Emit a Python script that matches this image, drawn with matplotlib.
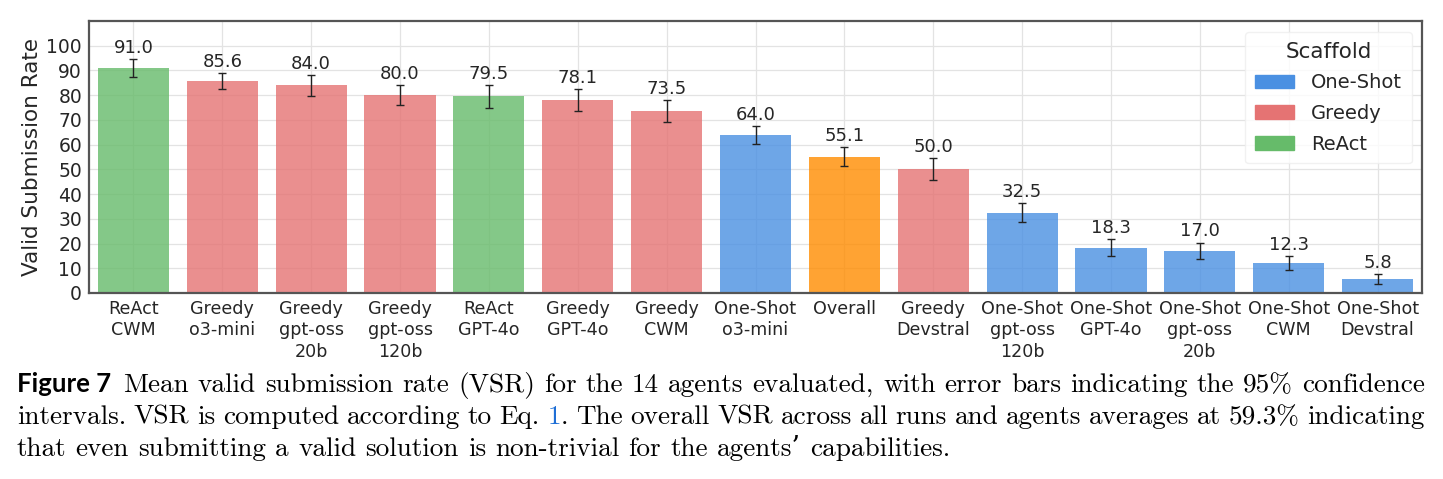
import matplotlib
matplotlib.use("Agg")
import matplotlib.pyplot as plt
from matplotlib.patches import Patch

labels = ["ReAct\nCWM", "Greedy\no3-mini", "Greedy\ngpt-oss\n20b", "Greedy\ngpt-oss\n120b",
          "ReAct\nGPT-4o", "Greedy\nGPT-4o", "Greedy\nCWM", "One-Shot\no3-mini", "Overall",
          "Greedy\nDevstral", "One-Shot\ngpt-oss\n120b", "One-Shot\nGPT-4o", "One-Shot\ngpt-oss\n20b",
          "One-Shot\nCWM", "One-Shot\nDevstral"]
scaffold = ["ReAct", "Greedy", "Greedy", "Greedy", "ReAct", "Greedy", "Greedy", "One-Shot",
            "Overall", "Greedy", "One-Shot", "One-Shot", "One-Shot", "One-Shot", "One-Shot"]
values = [91.0, 85.6, 84.0, 80.0, 79.5, 78.1, 73.5, 64.0, 55.1, 50.0, 32.5, 18.3, 17.0, 12.3, 5.8]
errors = [3.7, 3.2, 4.3, 4.0, 4.5, 4.3, 4.5, 3.6, 3.8, 4.5, 3.8, 3.4, 3.4, 2.8, 2.0]
yticks = list(range(0, 101, 10))

colors = {"One-Shot": "#4a90e2", "Greedy": "#e57373", "ReAct": "#66bb6a", "Overall": "#ff8c00"}
text_c = "#262626"

fig = plt.figure(figsize=(14.43, 4.79), dpi=100)
ax = fig.add_axes([89/1443, 1-293/479, (1422-89)/1443, (293-21)/479])

x = list(range(len(values)))
ax.set_axisbelow(True)
ax.grid(True, color="#e3e3e3", linewidth=0.9)
ax.bar(x, values, width=0.8, color=[colors[s] for s in scaffold], alpha=0.8, zorder=2)
ax.errorbar(x, values, yerr=errors, fmt="none", ecolor="#222222", elinewidth=1.0,
            capsize=3, capthick=1.0, zorder=3)
for xi, v, e in zip(x, values, errors):
    ax.annotate(f"{v:.1f}", (xi, v + e), xytext=(0, 1.5), textcoords="offset points",
                ha="center", va="bottom", fontsize=13, color=text_c)

ax.set_xlim(-0.5, len(values) - 0.5)
ax.set_ylim(0, 110)
ax.set_yticks(yticks)
ax.set_xticks(x)
ax.set_xticklabels(labels, fontsize=12.6, color=text_c, linespacing=1.25)
ax.tick_params(axis="y", labelsize=13.5, colors=text_c, length=0, pad=5)
ax.tick_params(axis="x", length=0, pad=5)
ax.set_ylabel("Valid Submission Rate", fontsize=15.5, color=text_c, labelpad=3)
for s in ax.spines.values():
    s.set_color("#555555")
    s.set_linewidth(1.6)

handles = [Patch(color=colors[k]) for k in ["One-Shot", "Greedy", "ReAct"]]
leg = ax.legend(handles, ["One-Shot", "Greedy", "ReAct"], title="Scaffold", loc="upper right",
                fontsize=14, title_fontsize=15.5, frameon=True, framealpha=0.8,
                edgecolor="#eeeeee", handlelength=2.0, handleheight=0.7, borderpad=0.5,
                labelspacing=0.6, handletextpad=0.9, borderaxespad=0,
                bbox_to_anchor=(1 - 10/1333, 1 - 11/272))
for t in leg.get_texts():
    t.set_color(text_c)
leg.get_title().set_color(text_c)

# caption
fig.canvas.draw()
renderer = fig.canvas.get_renderer()
cap_fs = 19.6
serif = ["cmr10", "DejaVu Serif"]
L, R = 17, 1425


def width_of(s, **kw):
    t = fig.text(0, 0, s, **kw)
    w = t.get_window_extent(renderer).width
    t.remove()
    return w


def place(xpx, ypx, s, **kw):
    t = fig.text(xpx/1443, 1-ypx/479, s, va="baseline", ha="left", **kw)
    return xpx + t.get_window_extent(renderer).width


def justified(ypx, words, x0, justify=True):
    base = dict(fontsize=cap_fs, family=serif)
    widths = [sum(width_of(s, **base) for s, c in w) for w in words]
    if justify:
        gap = (R - x0 - sum(widths)) / (len(words) - 1)
    else:
        gap = width_of("a b", **base) - width_of("ab", **base)
    xp = x0
    for w, wd in zip(words, widths):
        xx = xp
        for s, c in w:
            xx = place(xx, ypx, s, color=c, **base)
        xp += wd + gap


def simple(text):
    return [[(w, "black")] for w in text.split(" ")]


xp = place(L, 392, "Figure 7", fontsize=18.5, fontweight="bold",
           family=["Lato", "DejaVu Sans"], color="black")
justified(392, simple("Mean valid submission rate (VSR) for the 14 agents evaluated, with error bars "
                      "indicating the 95% confidence"), xp + 12)
line2 = simple("intervals. VSR is computed according to Eq.") + \
    [[("1", "#1f6fd6"), (".", "black")]] + \
    simple("The overall VSR across all runs and agents averages at 59.3% indicating")
justified(424, line2, L)
justified(456, simple("that even submitting a valid solution is non-trivial for the agents\u2019 capabilities."),
          L, justify=False)

fig.savefig("out.png", dpi=100)
